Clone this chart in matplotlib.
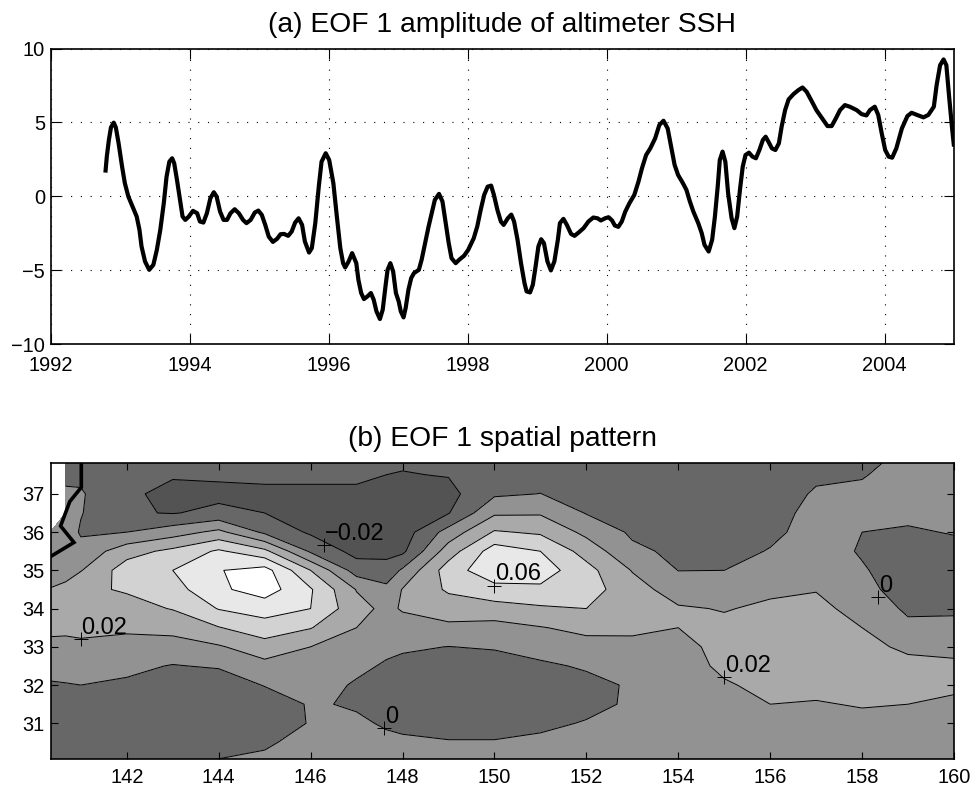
#!/usr/bin/env python3
# EOF 1 of altimeter SSH: amplitude time series and spatial pattern
import numpy as np
import matplotlib
matplotlib.use('Agg')
import matplotlib.pyplot as plt

plt.rcParams['font.family'] = ['Liberation Sans', 'DejaVu Sans']

#%% time series
years = [1992.79, 1992.81, 1992.84, 1992.87, 1992.91, 1992.94, 1992.98, 1993.03, 1993.07, 1993.12, 1993.18, 1993.24,
         1993.28, 1993.31, 1993.36, 1993.42, 1993.48, 1993.53, 1993.58, 1993.63, 1993.67, 1993.71, 1993.75, 1993.78,
         1993.82, 1993.87, 1993.90, 1993.94, 1993.99, 1994.05, 1994.11, 1994.15, 1994.20, 1994.25, 1994.30, 1994.35,
         1994.39, 1994.44, 1994.49, 1994.54, 1994.59, 1994.65, 1994.71, 1994.77, 1994.82, 1994.88, 1994.94, 1994.99,
         1995.04, 1995.09, 1995.14, 1995.20, 1995.26, 1995.31, 1995.36, 1995.42, 1995.47, 1995.52, 1995.57, 1995.62,
         1995.66, 1995.72, 1995.76, 1995.81, 1995.86, 1995.90, 1995.96, 1996.01, 1996.07, 1996.12, 1996.17, 1996.21,
         1996.24, 1996.29, 1996.34, 1996.40, 1996.43, 1996.47, 1996.51, 1996.56, 1996.61, 1996.65, 1996.69, 1996.74,
         1996.78, 1996.82, 1996.85, 1996.89, 1996.93, 1996.97, 1997.01, 1997.04, 1997.08, 1997.11, 1997.15, 1997.19,
         1997.23, 1997.30, 1997.34, 1997.39, 1997.44, 1997.49, 1997.53, 1997.59, 1997.64, 1997.68, 1997.73, 1997.77,
         1997.83, 1997.88, 1997.95, 1998.01, 1998.09, 1998.14, 1998.19, 1998.24, 1998.29, 1998.34, 1998.38, 1998.43,
         1998.48, 1998.52, 1998.58, 1998.63, 1998.67, 1998.72, 1998.77, 1998.82, 1998.85, 1998.90, 1998.94, 1998.98,
         1999.02, 1999.06, 1999.10, 1999.15, 1999.20, 1999.25, 1999.30, 1999.33, 1999.38, 1999.43, 1999.49, 1999.54,
         1999.60, 1999.67, 1999.74, 1999.81, 1999.87, 1999.92, 1999.98, 2000.03, 2000.08, 2000.12, 2000.17, 2000.22,
         2000.27, 2000.33, 2000.40, 2000.46, 2000.51, 2000.57, 2000.63, 2000.70, 2000.76, 2000.82, 2000.88, 2000.93,
         2000.98, 2001.03, 2001.10, 2001.15, 2001.20, 2001.25, 2001.32, 2001.37, 2001.41, 2001.47, 2001.52, 2001.56,
         2001.60, 2001.63, 2001.67, 2001.71, 2001.75, 2001.80, 2001.84, 2001.88, 2001.92, 2001.96, 2002.00, 2002.05,
         2002.10, 2002.15, 2002.20, 2002.25, 2002.29, 2002.33, 2002.38, 2002.43, 2002.48, 2002.52, 2002.57, 2002.62,
         2002.69, 2002.76, 2002.82, 2002.88, 2002.95, 2003.02, 2003.12, 2003.18, 2003.24, 2003.30, 2003.36, 2003.43,
         2003.50, 2003.60, 2003.67, 2003.74, 2003.79, 2003.86, 2003.91, 2003.96, 2004.01, 2004.06, 2004.11, 2004.17,
         2004.25, 2004.33, 2004.39, 2004.47, 2004.56, 2004.63, 2004.71, 2004.75, 2004.80, 2004.85, 2004.89, 2004.93,
         2004.97, 2005.00]
amplitude = [1.60, 2.68, 3.81, 4.66, 4.98, 4.66, 3.58, 2.00, 0.88, -0.02, -0.70, -1.37,
             -2.27, -3.40, -4.41, -4.98, -4.64, -3.63, -2.27, -0.47, 1.33, 2.34, 2.57, 2.23,
             1.10, -0.47, -1.37, -1.60, -1.37, -0.99, -1.15, -1.71, -1.78, -1.15, -0.14, 0.27,
             -0.02, -1.04, -1.60, -1.60, -1.15, -0.88, -1.15, -1.60, -1.82, -1.60, -1.10, -0.97,
             -1.26, -1.94, -2.73, -3.09, -2.88, -2.57, -2.55, -2.68, -2.39, -1.78, -1.49, -1.94,
             -3.06, -3.81, -3.51, -1.82, 0.65, 2.34, 2.91, 2.45, 0.88, -1.37, -3.51, -4.53,
             -4.82, -4.41, -3.85, -4.53, -5.65, -6.55, -6.96, -6.78, -6.55, -7.00, -7.79, -8.31,
             -7.68, -6.10, -4.98, -4.53, -5.09, -6.55, -7.12, -7.79, -8.20, -7.57, -6.33, -5.54,
             -5.20, -4.98, -4.30, -3.18, -2.05, -1.04, -0.25, 0.16, -0.36, -1.60, -3.18, -4.19,
             -4.53, -4.30, -4.03, -3.63, -2.84, -2.05, -0.92, 0.09, 0.65, 0.72, 0.09, -0.92,
             -1.71, -1.94, -1.49, -1.24, -1.71, -2.95, -4.53, -5.88, -6.44, -6.51, -5.99, -4.75,
             -3.40, -2.91, -3.18, -4.41, -5.02, -4.41, -2.95, -1.82, -1.53, -1.94, -2.55, -2.68,
             -2.45, -2.16, -1.71, -1.44, -1.49, -1.64, -1.49, -1.42, -1.64, -1.98, -2.07, -1.71,
             -1.04, -0.47, 0.09, 0.99, 1.89, 2.79, 3.24, 3.92, 4.82, 5.11, 4.59, 3.36,
             2.12, 1.44, 0.88, 0.43, -0.36, -1.04, -1.82, -2.50, -3.29, -3.74, -2.95, -1.37,
             0.65, 2.45, 3.02, 2.34, 0.20, -1.49, -2.16, -1.37, 0.43, 2.00, 2.79, 2.95,
             2.68, 2.57, 3.13, 3.81, 4.03, 3.69, 3.24, 3.13, 3.58, 4.71, 5.83, 6.55,
             6.91, 7.18, 7.36, 7.07, 6.46, 5.83, 5.16, 4.75, 4.75, 5.27, 5.83, 6.17,
             6.06, 5.83, 5.56, 5.47, 5.83, 6.06, 5.50, 4.26, 3.13, 2.68, 2.61, 3.24,
             4.59, 5.43, 5.65, 5.50, 5.34, 5.50, 6.06, 7.52, 8.87, 9.26, 8.87, 6.73,
             4.71, 3.36]

#%% gridded EOF pattern for panel (b), one list per longitude, lat 38 -> 30
lats = [38, 37.5, 37, 36.5, 36, 35.5, 35, 34.5, 34, 33.5, 33, 32.5, 32, 31.5, 31, 30.5, 30]
lons = [140.34, 140.67, 141, 142, 143, 144, 145, 146, 147, 147.65, 148, 149, 150, 151, 152, 153, 154, 155, 156, 157, 158, 159, 160]
nan = float('nan')
eof_columns = [
    [nan, nan, nan, nan, .01, .012, .015, .0205, .027, .023, .0166, .0073, -.002, -.006, -.01, -.01, -.01],
    [-.007, -.003, .002, .007, .01, .013, .017, .022, .028, .023, .016, .0075, -.001, -.006, -.01, -.01, -.01],
    [-.007, -.004, .002, .001, -.002, .006, .019, .036, .03, .025, .016, .008, 0, -.008, -.012, -.012, -.012],
    [-.012, -.012, -.018, -.018, 0, .032, .05, .042, .033, .023, .0137, .0044, -.003, -.008, -.011, -.012, -.012],
    [-.016, -.019, -.023, -.021, .011, .045, .06, .052, .041, .026, .012, -.001, -.01, -.014, -.016, -.018, -.018],
    [-.015, -.017, -.025, -.015, .025, .063, .079, .076, .061, .039, .018, .002, -.012, -.016, -.014, -.006, .001],
    [-.013, -.016, -.024, -.02, -.004, .045, .088, .09, .068, .052, .031, .014, .001, -.012, -.009, -.002, .003],
    [-.013, -.016, -.024, -.028, -.023, -.003, .04, .062, .06, .041, .02, .014, .008, .002, .001, .005, .006],
    [-.013, -.016, -.024, -.03, -.03, -.027, -.009, .019, .027, .02, .012, .004, -.002, -.002, .003, .006, .008],
    [-.015, -.02, -.028, -.032, -.03, -.026, -.012, .005, .015, .01, .004, -.002, -.007, -.008, -.002, .004, .007],
    [-.016, -.021, -.03, -.033, -.03, -.024, .003, .021, .022, .011, .0026, -.005, -.008, -.009, -.004, .003, .006],
    [-.013, -.019, -.026, -.021, .008, .03, .05, .043, .029, .016, -.0003, -.008, -.012, -.013, -.006, .001, .005],
    [-.014, -.009, -.003, .017, .042, .07, .074, .053, .032, .013, .002, -.01, -.016, -.016, -.006, .001, .004],
    [-.012, -.008, .0003, .018, .037, .06, .07, .056, .037, .019, .007, -.003, -.009, -.011, -.003, .003, .006],
    [-.013, -.012, -.009, -.001, .015, .032, .047, .049, .04, .025, .013, .002, -.005, -.004, .001, .005, .008],
    [-.014, -.013, -.011, -.007, -.003, .004, .019, .028, .03, .023, .016, .012, .002, .002, .005, .008, .011],
    [-.016, -.014, -.012, -.01, -.008, -.004, -.0003, .011, .022, .02, .014, .011, .009, .009, .01, .012, .014],
    [-.012, -.012, -.012, -.01, -.008, -.006, 0, .01, .019, .024, .026, .024, .018, .014, .012, .012, .013],
    [-.012, -.011, -.009, -.006, -.004, .001, .009, .017, .023, .027, .029, .028, .025, .02, .016, .014, .014],
    [-.009, -.003, .002, .005, .007, .01, .014, .019, .026, .03, .031, .028, .024, .019, .015, .014, .014],
    [-.005, -.001, .003, .003, 0, -.002, .002, .006, .012, .02, .026, .028, .026, .021, .016, .014, .013],
    [.003, .006, .007, .004, -.002, -.008, -.011, -.009, -.003, .004, .016, .026, .025, .02, .015, .013, .012],
    [.006, .008, .008, .004, .001, -.005, -.01, -.009, -.003, .005, .014, .024, .024, .016, .012, .011, .011],
]
contour_levels = [-0.02, 0, 0.02, 0.04, 0.06, 0.08]
fill_levels = [-0.05, -0.02, 0, 0.02, 0.04, 0.06, 0.08, 0.12]
fill_colors = ['#535353', '#676767', '#929292', '#a9a9a9', '#d2d2d2', '#e8e8e8', '#ffffff']

# Japan coast
coast_lon = [141.01, 141.01, 140.76, 140.56, 140.85, 140.34]
coast_lat = [37.82, 37.17, 36.80, 36.16, 35.73, 35.36]

# contour labels picked by hand
label_lon = [146.3, 150.0, 141.0, 147.6, 155.0, 158.35]
label_lat = [35.65, 34.6, 33.2, 30.87, 32.2, 34.3]
label_txt = ['\u22120.02', '0.06', '0.02', '0', '0.02', '0']

year_ticks = list(range(1992, 2006, 2))
amp_ticks = [-10, -5, 0, 5, 10]
lon_ticks = list(range(142, 162, 2))
lat_ticks = list(range(31, 38))

#%% plotting
W, H = 976, 791
fig = plt.figure(figsize=(W/100, H/100), dpi=100)

ax1 = fig.add_axes([50.5/W, 1-344/H, 903.5/W, 295.5/H])
ax1.plot(years, amplitude, color='k', lw=3.0, solid_joinstyle='round', solid_capstyle='butt')
ax1.set_xlim(1992, 2005)
ax1.set_ylim(-10, 10)
ax1.set_xticks(year_ticks)
ax1.set_yticks(amp_ticks)
ax1.grid(True, color='k', lw=0.8, linestyle=(0, (1, 7.8)))
ax1.tick_params(direction='in', top=True, right=True, length=7, width=0.8, labelsize=14.4)
ax1.tick_params(axis='x', pad=9)
ax1.tick_params(axis='y', pad=4)
ax1.set_title('(a) EOF 1 amplitude of altimeter SSH', fontsize=20.3, pad=12)

ax2 = fig.add_axes([50.5/W, 1-758.5/H, 903.5/W, 296/H])
eof = np.array(eof_columns).T
ax2.contourf(lons, lats, eof, levels=fill_levels, colors=fill_colors)
ax2.contour(lons, lats, eof, levels=contour_levels, colors='k', linewidths=0.7, linestyles='solid')
ax2.plot(coast_lon, coast_lat, color='k', lw=2.6, solid_joinstyle='miter')
ax2.plot(label_lon, label_lat, '+', color='k', ms=10, mew=0.7)
for lon, lat, txt in zip(label_lon, label_lat, label_txt):
    ax2.annotate(txt, (lon, lat), xytext=(0.5, 4), textcoords='offset points', fontsize=17, color='k')
ax2.set_xlim(140.34, 160)
ax2.set_ylim(30.08, 37.82)
ax2.set_xticks(lon_ticks)
ax2.set_yticks(lat_ticks)
ax2.tick_params(direction='in', top=True, right=True, length=5, width=0.8, labelsize=14.4)
ax2.tick_params(axis='x', pad=7)
ax2.tick_params(axis='y', pad=4)
ax2.set_title('(b) EOF 1 spatial pattern', fontsize=20.3, pad=12)

for ax in (ax1, ax2):
    for sp in ax.spines.values():
        sp.set_linewidth(1.2)

fig.savefig('out.png', dpi=100)
